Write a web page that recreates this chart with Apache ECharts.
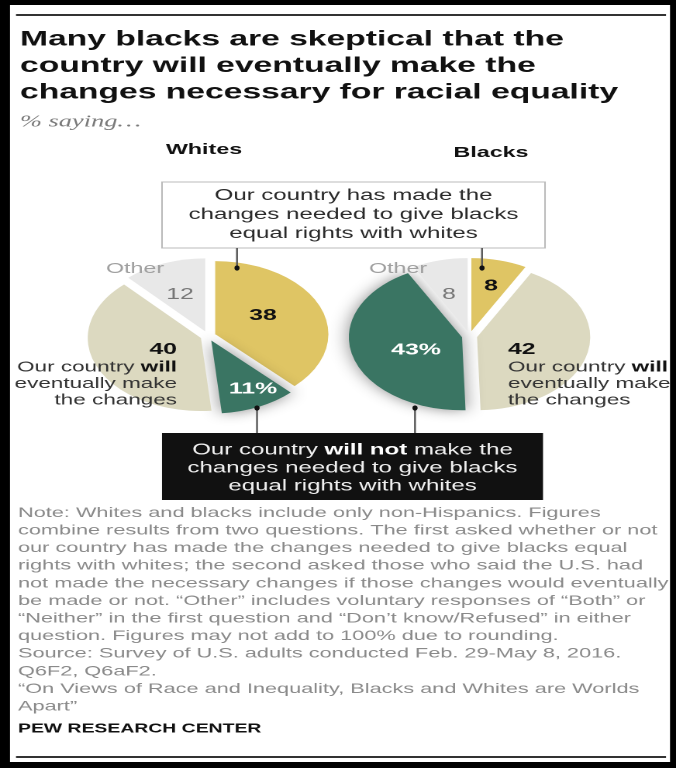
<!DOCTYPE html>
<html>
<head>
<meta charset="utf-8">
<script src="https://cdn.jsdelivr.net/npm/echarts@6/dist/echarts.min.js"></script>
<style>
  html, body { margin: 0; padding: 0; background: #fff; overflow: hidden; }
  /* the reference is stretched wide, so the chart is drawn narrow and scaled */
  #chart { width: 436px; height: 768px; transform: scaleX(1.55046); transform-origin: 0 0; }
</style>
</head>
<body>
<div id="chart"></div>
<script>
const S = 676 / 436
const X = (v) => v / S
const FONT = '"Liberation Sans", Arial, sans-serif'

// data
const categories = ['Made the changes', 'Will not make the changes', 'Will eventually make the changes', 'Other']
const whitesValues = [38, 11, 40, 12]
const blacksValues = [8, 43, 42, 8]
// order of the slices clockwise from 12 o'clock
const whitesOrder = [0, 1, 2, 3]
const blacksOrder = [0, 2, 1, 3]

const colors = ['#dfc564', '#3a7563', '#dcd9c0', '#e8e8e8']

function pieData(values, order) {
    return order.map((i) => ({
        name: categories[i],
        value: values[i],
        selected: true,
        itemStyle: i === 1
            ? { color: colors[i], shadowBlur: 12, shadowColor: 'rgba(0,0,0,0.45)' }
            : { color: colors[i] }
    }))
}

function pie(cx, data) {
    return {
        type: 'pie',
        center: [X(cx), 336],
        radius: 73,
        selectedMode: 'multiple',
        selectedOffset: 5,
        silent: true,
        label: { show: false },
        labelLine: { show: false },
        emphasis: { scale: false },
        data: data
    }
}

function txt(x, y, text, o) {
    o = o || {}
    const size = o.size || 15
    const style = {
        text: text,
        fontFamily: FONT,
        fontSize: size,
        fontWeight: o.bold ? 'bold' : 'normal',
        fontStyle: o.italic ? 'italic' : 'normal',
        fill: o.color || '#222',
        align: o.align || 'left',
        verticalAlign: o.va || 'middle'
    }
    if (o.lh) style.lineHeight = o.lh
    if (o.italic) style.fontFamily = '"Liberation Serif", Georgia, serif'
    if (o.rich) style.rich = o.rich
    return { type: 'text', x: X(x), y: y, z: 10, silent: true, style: style }
}

function boldRich(size, lh, color) {
    return { b: { fontFamily: FONT, fontWeight: 'bold', fontSize: size, lineHeight: lh, fill: color } }
}

function dot(x, y) {
    return { type: 'circle', x: X(x), y: y, scaleX: 1 / S, z: 11, silent: true,
        shape: { cx: 0, cy: 0, r: 2.6 }, style: { fill: '#111' } }
}

function vline(x, y1, y2) {
    return { type: 'line', z: 11, silent: true,
        shape: { x1: X(x), y1: y1, x2: X(x), y2: y2 }, style: { stroke: '#555', lineWidth: 1.2 } }
}

function rect(x, y, w, h, style) {
    return { type: 'rect', z: 9, silent: true,
        shape: { x: X(x), y: y, width: X(w), height: h }, style: style }
}

const noteLines = [
    'Note: Whites and blacks include only non-Hispanics. Figures',
    'combine results from two questions. The first asked whether or not',
    'our country has made the changes needed to give blacks equal',
    'rights with whites; the second asked those who said the U.S. had',
    'not made the necessary changes if those changes would eventually',
    'be made or not. \u201cOther\u201d includes voluntary responses of \u201cBoth\u201d or',
    '\u201cNeither\u201d in the first question and \u201cDon\u2019t know/Refused\u201d in either',
    'question. Figures may not add to 100% due to rounding.',
    'Source: Survey of U.S. adults conducted Feb. 29-May 8, 2016.',
    'Q6F2, Q6aF2.',
    '\u201cOn Views of Race and Inequality, Blacks and Whites are Worlds',
    'Apart\u201d'
]

const willText = 'Our country {b|will}\neventually make\nthe changes'

const graphics = [
    // frame
    rect(0, 0, 10, 768, { fill: '#000' }),
    rect(0, 0, 676, 5, { fill: '#000' }),
    rect(670, 0, 6, 768, { fill: '#000' }),
    rect(0, 762, 676, 6, { fill: '#000' }),
    { type: 'line', z: 9, silent: true, shape: { x1: X(16), y1: 15, x2: X(666), y2: 15 }, style: { stroke: '#333', lineWidth: 2 } },
    { type: 'line', z: 9, silent: true, shape: { x1: X(16), y1: 757, x2: X(666), y2: 757 }, style: { stroke: '#333', lineWidth: 2 } },

    // title
    txt(20, 66, 'Many blacks are skeptical that the\ncountry will eventually make the\nchanges necessary for racial equality',
        { size: 21.7, bold: true, lh: 26.5, color: '#111' }),
    txt(20, 122, '% saying\u2026', { size: 17, italic: true, color: '#7a7a7a' }),

    txt(204, 150, 'Whites', { size: 15, bold: true, align: 'center', color: '#111' }),
    txt(491, 153, 'Blacks', { size: 15, bold: true, align: 'center', color: '#111' }),

    // top box
    rect(162, 182, 383, 66, { fill: '#fff', stroke: '#bbb', lineWidth: 1 }),
    txt(353.5, 214.5, 'Our country has made the\nchanges needed to give blacks\nequal rights with whites',
        { size: 15.5, lh: 19, align: 'center', color: '#2a2a2a' }),
    vline(237, 248, 268), dot(237, 268),
    vline(482, 248, 268), dot(482, 268),

    // bottom box
    rect(162, 433, 381, 67, { fill: '#111' }),
    txt(352.5, 468, 'Our country {b|will not} make the\nchanges needed to give blacks\nequal rights with whites',
        { size: 15.5, lh: 18, align: 'center', color: '#f0f0f0', rich: boldRich(15.5, 18, '#fff') }),
    vline(257, 408, 433), dot(257, 408),
    vline(415, 408, 433), dot(415, 408),

    // whites labels
    txt(135, 269, categories[3], { size: 15, color: '#a0a0a0', align: 'center' }),
    txt(180, 294.5, String(whitesValues[3]), { size: 16, color: '#777', align: 'center' }),
    txt(263, 315.5, String(whitesValues[0]), { size: 16, bold: true, align: 'center', color: '#111' }),
    txt(253, 389, whitesValues[1] + '%', { size: 16, bold: true, align: 'center', color: '#fff' }),
    txt(177, 349.5, String(whitesValues[2]), { size: 16, bold: true, align: 'right', color: '#111' }),
    txt(177, 384, willText, { size: 14.5, lh: 16.5, align: 'right', color: '#333', rich: boldRich(14.5, 16.5, '#111') }),

    // blacks labels
    txt(398, 269, categories[3], { size: 15, color: '#a0a0a0', align: 'center' }),
    txt(449, 294.5, String(blacksValues[3]), { size: 16, color: '#777', align: 'center' }),
    txt(491, 286, String(blacksValues[0]), { size: 16, bold: true, align: 'center', color: '#111' }),
    txt(416, 350, blacksValues[1] + '%', { size: 16, bold: true, align: 'center', color: '#fff' }),
    txt(508, 349.5, String(blacksValues[2]), { size: 16, bold: true, align: 'left', color: '#111' }),
    txt(508, 384, willText, { size: 14.5, lh: 16.5, align: 'left', color: '#333', rich: boldRich(14.5, 16.5, '#111') }),

    // notes
    txt(18, 504.2, noteLines.join('\n'), { size: 14, lh: 17.6, va: 'top', color: '#8a8a8a' }),
    txt(18, 729, 'PEW RESEARCH CENTER', { size: 12.5, bold: true, color: '#111' })
]

const chart = echarts.init(document.getElementById('chart'), null, { devicePixelRatio: 2 })
chart.setOption({
    animation: false,
    backgroundColor: '#fff',
    series: [
        pie(208, pieData(whitesValues, whitesOrder)),
        pie(469.5, pieData(blacksValues, blacksOrder))
    ],
    graphic: graphics
})
</script>
</body>
</html>
